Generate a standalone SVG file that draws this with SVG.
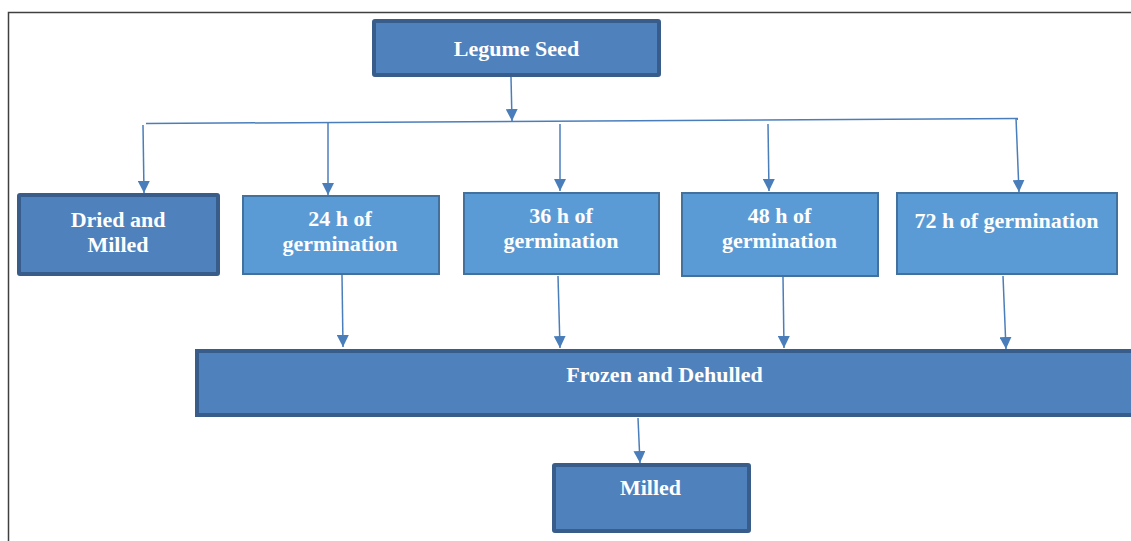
<svg xmlns="http://www.w3.org/2000/svg" width="1131" height="541" viewBox="0 0 1131 541">
<defs>
<marker id="arr" markerUnits="userSpaceOnUse" markerWidth="12" markerHeight="12" refX="12" refY="6" orient="auto" viewBox="0 0 12 12">
<path d="M0,0 L12,6 L0,12 z" fill="#4A7EBB"/>
</marker>
</defs>
<style>
.dark{fill:#4F81BD;stroke:#385D8A;stroke-width:4}
.light{fill:#5B9BD5;stroke:#41719C;stroke-width:2}
.t{font-family:"Liberation Serif","Times New Roman",serif;font-weight:bold;font-size:22px;fill:#FFFFFF;text-anchor:middle}
.c{stroke:#4A7EBB;stroke-width:1.5;fill:none}
.ca{stroke:#4A7EBB;stroke-width:1.5;fill:none;marker-end:url(#arr)}
</style>
<rect x="0" y="0" width="1131" height="541" fill="#FFFFFF"/>
<path d="M8.5,541 L8.5,12.5 L1131,12.5" fill="none" stroke="#404040" stroke-width="1.5"/>
<g id="connectors">
<line class="ca" x1="511" y1="77" x2="512" y2="121"/>
<line class="c" x1="146" y1="123.5" x2="1018" y2="118.5"/>
<line class="ca" x1="143" y1="125" x2="144" y2="193"/>
<line class="ca" x1="328" y1="123" x2="328" y2="195"/>
<line class="ca" x1="560" y1="124" x2="560" y2="191"/>
<line class="ca" x1="768" y1="124" x2="769" y2="191"/>
<line class="ca" x1="1016" y1="118" x2="1019" y2="192"/>
<line class="ca" x1="342" y1="275" x2="343" y2="347"/>
<line class="ca" x1="558" y1="276" x2="560" y2="348"/>
<line class="ca" x1="783" y1="277" x2="784" y2="348"/>
<line class="ca" x1="1003" y1="276" x2="1006" y2="349"/>
<line class="ca" x1="638" y1="418" x2="640" y2="463"/>
</g>
<g id="legume-seed">
<rect class="dark" x="374" y="21" width="285" height="54" rx="1"/>
<text class="t" x="516.5" y="56">Legume Seed</text>
</g>
<g id="dried-milled">
<rect class="dark" x="19" y="195" width="199" height="79" rx="1"/>
<text class="t" x="118" y="227">Dried and</text>
<text class="t" x="118" y="252">Milled</text>
</g>
<g id="germ-24">
<rect class="light" x="243" y="196" width="196" height="78"/>
<text class="t" x="340" y="226">24 h of</text>
<text class="t" x="340" y="251">germination</text>
</g>
<g id="germ-36">
<rect class="light" x="464" y="193" width="195" height="81"/>
<text class="t" x="561" y="223">36 h of</text>
<text class="t" x="561" y="248">germination</text>
</g>
<g id="germ-48">
<rect class="light" x="682" y="193" width="196" height="83"/>
<text class="t" x="779.5" y="223">48 h of</text>
<text class="t" x="779.5" y="248">germination</text>
</g>
<g id="germ-72">
<rect class="light" x="897" y="193" width="220" height="81"/>
<text class="t" x="1006.5" y="228">72 h of germination</text>
</g>
<g id="frozen-dehulled">
<rect class="dark" x="197" y="351" width="936" height="64"/>
<text class="t" x="664.5" y="382">Frozen and Dehulled</text>
</g>
<g id="milled">
<rect class="dark" x="554" y="465" width="195" height="66" rx="1"/>
<text class="t" x="650.5" y="495">Milled</text>
</g>
</svg>
